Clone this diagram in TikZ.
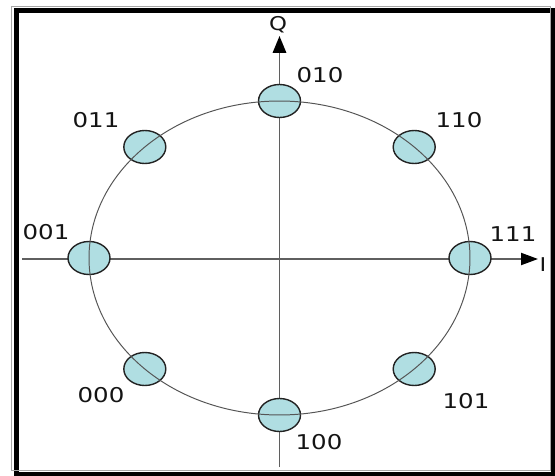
\documentclass[tikz,border=0pt]{standalone}
\usepackage{fontspec}
\usepackage{xcolor}
\usepackage{tikz}
\usetikzlibrary{shapes.geometric, arrows.meta}

\newfontfamily\plotfont[FakeStretch=1.2]{DejaVu Sans}
\definecolor{markfill}{RGB}{176,222,226}
\definecolor{markline}{RGB}{35,35,35}
\definecolor{axisgray}{RGB}{95,95,95}
\definecolor{ringgray}{RGB}{85,85,85}
\definecolor{textgray}{RGB}{20,20,20}

\begin{document}
\begin{tikzpicture}[x=0.05cm, y=-0.05cm,
    symbol/.style={ellipse, draw=markline, fill=markfill, line width=2pt,
                   minimum width=2.1cm, minimum height=1.65cm, inner sep=0pt},
    tag/.style={font=\plotfont\fontsize{29}{30}\selectfont, text=textgray, inner sep=0pt},
    axlabel/.style={font=\plotfont\fontsize{27}{28}\selectfont, text=textgray, inner sep=0pt},
    axis/.style={draw=axisgray, line width=2.8pt,
                 -{Triangle[length=24pt, width=19pt, color=black]}},
    ring/.style={draw=ringgray, line width=1.4pt}
]
\useasboundingbox (0,0) rectangle (555,476);

% frame
\draw[line width=7.1pt] (16.5,10.5) rectangle (553.5,474);
\draw[gray!70, line width=1.4pt] (11.5,6) rectangle (550.5,470.5);

% axes
\coordinate (o)     at (279.5,258);
\coordinate (qbot)  at (279.5,467);
\coordinate (qtop)  at (279.5,36);
\coordinate (ileft) at (22,259);
\coordinate (iright) at (538,259);
\draw[axis] (qbot) -- (qtop);
\draw[axis, -{Triangle[length=24pt, width=17pt, color=black]}] (ileft) -- (iright);

% constellation points
\node (s111) [symbol] at (470,258)   {};
\node (s110) [symbol] at (414.2,147) {};
\node (s010) [symbol] at (279.5,101) {};
\node (s011) [symbol] at (144.8,147) {};
\node (s001) [symbol] at (89,258)    {};
\node (s000) [symbol] at (144.8,369) {};
\node (s100) [symbol] at (279.5,415) {};
\node (s101) [symbol] at (414.2,369) {};

\draw[ring] (o) ellipse [x radius=9.525cm, y radius=7.85cm];

% labels
\node (q)    [axlabel] at (278,25)  {Q};
\node (i)    [axlabel] at (543,265) {I};
\node (t010) [tag] at (320,75)  {010};
\node (t011) [tag] at (96,120)  {011};
\node (t110) [tag] at (459,120) {110};
\node (t001) [tag] at (46,232)  {001};
\node (t111) [tag] at (513,234) {111};
\node (t000) [tag] at (101,395) {000};
\node (t101) [tag] at (466,401) {101};
\node (t100) [tag] at (319,442) {100};
\end{tikzpicture}
\end{document}
